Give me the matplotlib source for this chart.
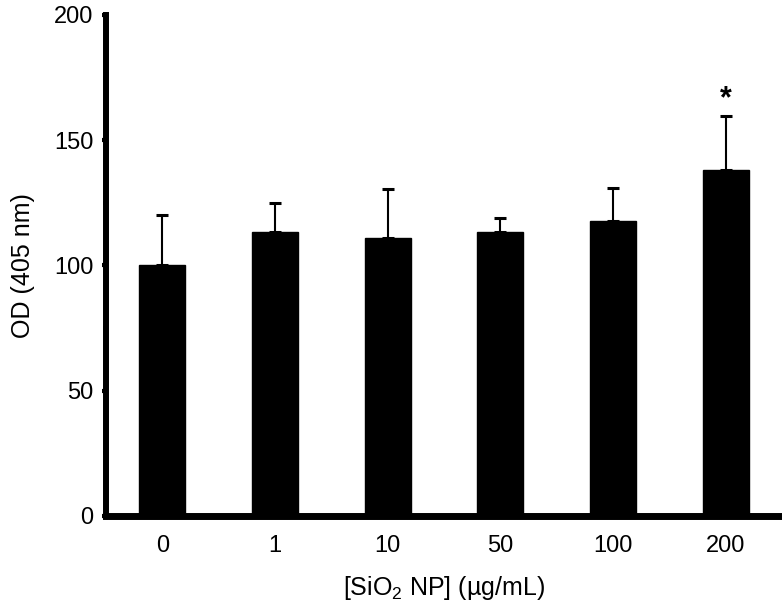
import matplotlib
matplotlib.use("Agg")
import matplotlib.pyplot as plt
import numpy as np
from matplotlib.ticker import MultipleLocator

plt.rcParams['font.family'] = ['Liberation Sans', 'DejaVu Sans']
plt.rcParams['mathtext.fontset'] = 'custom'
plt.rcParams['mathtext.rm'] = 'Liberation Sans'
plt.rcParams['mathtext.it'] = 'Liberation Sans:italic'

# values
doses = ["0", "1", "10", "50", "100", "200"]
od_mean = [100, 113.5, 111, 113.5, 117.7, 138]
od_err = [20, 11.6, 19.4, 5.6, 13.2, 21.7]
signif = ["", "", "", "", "", "*"]

fig = plt.figure(figsize=(7.82, 6.12), dpi=100)
ax = fig.add_axes([0.1355, 0.157, 0.8645, 0.8185])

x = np.arange(len(doses))
ax.bar(x, od_mean, width=0.41, color="black", edgecolor="black", zorder=2)
ax.errorbar(x, od_mean, yerr=[np.zeros(len(od_err)), od_err], fmt="none",
            ecolor="black", elinewidth=1.5, capsize=4, capthick=2.2, zorder=1)

for i, s in enumerate(signif):
    if s:
        ax.text(x[i], od_mean[i] + od_err[i] + 0.5, s, ha="center", va="bottom",
                fontsize=22, fontweight="bold")

ax.set_xlim(-0.5, 5.5)
ax.set_ylim(0, 200)
ax.set_xticks(x, labels=doses)
ax.yaxis.set_major_locator(MultipleLocator(50))
ax.yaxis.set_minor_locator(MultipleLocator(25))

for side in ["top", "right"]:
    ax.spines[side].set_visible(False)
ax.spines["left"].set_linewidth(4.3)
ax.spines["bottom"].set_linewidth(5)

ax.tick_params(axis="y", which="major", direction="out", length=3, width=3,
               labelsize=17, pad=6)
ax.tick_params(axis="y", which="minor", direction="out", length=2.5, width=3)
ax.tick_params(axis="x", length=0, labelsize=17, pad=14)

ax.set_ylabel("OD (405 nm)", fontsize=18, labelpad=14)
ax.set_xlabel("[SiO$_2$ NP] (µg/mL)", fontsize=18, labelpad=12)

fig.savefig("out.png", dpi=100)
